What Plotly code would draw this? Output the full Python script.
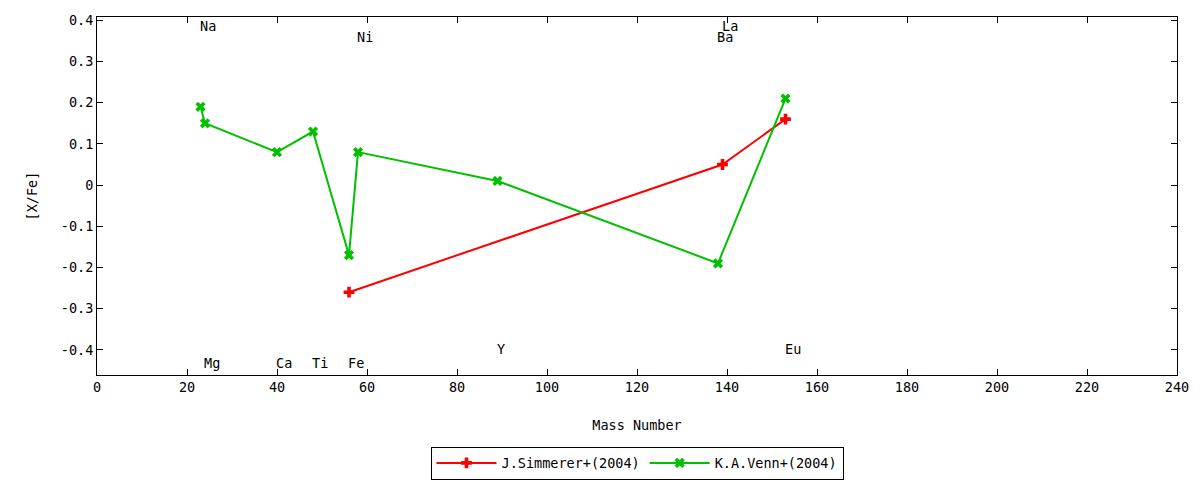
import plotly.graph_objects as go

# Data
simmerer_mass = [56, 139, 153]
simmerer_xfe = [-0.26, 0.05, 0.16]

venn_mass = [23, 24, 40, 48, 56, 58, 89, 138, 153]
venn_xfe = [0.19, 0.15, 0.08, 0.13, -0.17, 0.08, 0.01, -0.19, 0.21]

label_text = ["Na", "Mg", "Ca", "Ti", "Fe", "Ni", "Y", "Ba", "La", "Eu"]
label_mass = [23, 24, 40, 48, 56, 58, 89, 138, 139, 153]
label_y = [0.385, -0.432, -0.432, -0.432, -0.432, 0.36, -0.397, 0.36, 0.385, -0.397]

x_ticks = list(range(0, 241, 20))
y_ticks = [0.4, 0.3, 0.2, 0.1, 0, -0.1, -0.2, -0.3, -0.4]
y_tick_text = ["0.4", "0.3", "0.2", "0.1", "0", "-0.1", "-0.2", "-0.3", "-0.4"]

FONT = "DejaVu Sans Mono"
FS = 13.5
RED = "#ff0000"
GREEN = "#00c000"

fig = go.Figure()
fig.add_trace(go.Scatter(
    x=simmerer_mass, y=simmerer_xfe, mode="lines+markers",
    name="J.Simmerer+(2004)",
    line=dict(color=RED, width=2),
    marker=dict(symbol="cross", size=9, color=RED),
))
fig.add_trace(go.Scatter(
    x=venn_mass, y=venn_xfe, mode="lines+markers",
    name="K.A.Venn+(2004)",
    line=dict(color=GREEN, width=2),
    marker=dict(symbol="x", size=9, color=GREEN),
))

for t, mx, my in zip(label_text, label_mass, label_y):
    fig.add_annotation(x=mx, y=my, text=t, showarrow=False,
                       xanchor="left", yanchor="middle", xshift=-3,
                       font=dict(family=FONT, size=FS, color="black"))

axis_common = dict(
    showgrid=False, zeroline=False, showline=True, linecolor="black",
    linewidth=1, mirror="allticks", ticks="inside", ticklen=6,
    tickcolor="black", tickwidth=1, automargin=False,
    tickfont=dict(family=FONT, size=FS, color="black"),
)

fig.update_xaxes(range=[0, 240], tickvals=x_ticks,
                 title=dict(text="Mass Number", font=dict(family=FONT, size=FS, color="black"), standoff=26),
                 **axis_common)
fig.update_yaxes(range=[-0.461, 0.408], tickvals=y_ticks, ticktext=y_tick_text,
                 title=dict(text="[X/Fe]", font=dict(family=FONT, size=FS, color="black"), standoff=20),
                 **axis_common)

fig.update_layout(
    width=1200, height=480,
    margin=dict(l=97, r=23, t=17, b=105, autoexpand=False),
    plot_bgcolor="white", paper_bgcolor="white",
    font=dict(family=FONT, size=FS, color="black"),
    showlegend=True,
    legend=dict(orientation="h", x=0.5, xanchor="center", y=-0.2, yanchor="top",
                bordercolor="black", borderwidth=1, bgcolor="white",
                font=dict(family=FONT, size=FS, color="black"),
                itemwidth=60, tracegroupgap=0),
)

fig.write_html("out.html", config={"displayModeBar": False},
               post_script="document.body.style.margin='0';document.body.style.overflow='hidden';")
